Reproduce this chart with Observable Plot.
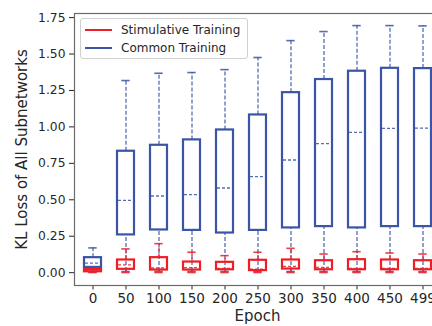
<!DOCTYPE html>
<html>
<head>
<meta charset="utf-8">
<script src="https://cdn.jsdelivr.net/npm/d3@7"></script>
<script src="https://cdn.jsdelivr.net/npm/@observablehq/plot@0.6"></script>
<style>
  html, body { margin: 0; padding: 0; background: white; overflow: hidden; }
  #wrap { position: relative; width: 432px; height: 326px; overflow: hidden; font-family: "DejaVu Sans", sans-serif; }
  #legend { position: absolute; left: 80px; top: 18px; width: 166px; height: 39px; border: 1px solid #d0d0d0; border-radius: 3px; background: rgba(255,255,255,0.85); font-size: 12px; color: #262626; }
  .item { position: absolute; left: 4px; height: 14px; display: flex; align-items: center; white-space: nowrap; }
  .sw { width: 27px; height: 0; border-top: 2px solid; margin-right: 9px; }
</style>
</head>
<body>
<div id="wrap"></div>
<script>
const epochs = ["0","50","100","150","200","250","300","350","400","450","499"];

// Common Training (blue)
const commonLo  = [0.005, 0.008, 0.008, 0.008, 0.008, 0.008, 0.008, 0.008, 0.008, 0.008, 0.008];
const commonQ1  = [0.036, 0.259, 0.293, 0.290, 0.272, 0.290, 0.307, 0.316, 0.307, 0.316, 0.316];
const commonMed = [0.066, 0.496, 0.526, 0.535, 0.581, 0.659, 0.773, 0.885, 0.963, 0.990, 0.992];
const commonQ3  = [0.103, 0.833, 0.874, 0.911, 0.979, 1.082, 1.235, 1.325, 1.382, 1.402, 1.400];
const commonHi  = [0.170, 1.318, 1.368, 1.373, 1.393, 1.476, 1.592, 1.654, 1.695, 1.695, 1.693];

// Stimulative Training (red)
const stimLo  = [0.001, 0.001, 0.001, 0.001, 0.001, 0.001, 0.001, 0.001, 0.001, 0.001, 0.001];
const stimQ1  = [0.006, 0.023, 0.018, 0.018, 0.020, 0.014, 0.025, 0.020, 0.020, 0.020, 0.020];
const stimMed = [0.013, 0.053, 0.032, 0.035, 0.030, 0.025, 0.043, 0.036, 0.030, 0.030, 0.030];
const stimQ3  = [0.022, 0.087, 0.103, 0.073, 0.071, 0.085, 0.087, 0.082, 0.089, 0.087, 0.082];
const stimHi  = [0.030, 0.163, 0.199, 0.140, 0.117, 0.140, 0.167, 0.128, 0.144, 0.135, 0.128];

const yTicks = [0, 0.25, 0.5, 0.75, 1.0, 1.25, 1.5, 1.75];
const seriesNames = ["Stimulative Training", "Common Training"];
const RED = "#ec1f26", BLUE = "#3a54a6";

const mk = (lo, q1, med, q3, hi) => epochs.map((e, i) => ({epoch: e, lo: lo[i], q1: q1[i], med: med[i], q3: q3[i], hi: hi[i]}));
const common = mk(commonLo, commonQ1, commonMed, commonQ3, commonHi);
const stim = mk(stimLo, stimQ1, stimMed, stimQ3, stimHi);

function boxMarks(t, color) {
  return [
    Plot.ruleX(t, {x: "epoch", y1: "q3", y2: "hi", stroke: color, strokeWidth: 1.3, strokeOpacity: 0.85, strokeDasharray: "4,2"}),
    Plot.ruleX(t, {x: "epoch", y1: "lo", y2: "q1", stroke: color, strokeWidth: 1.3, strokeOpacity: 0.85, strokeDasharray: "4,2"}),
    Plot.tickY(t, {x: "epoch", y: "hi", stroke: color, strokeWidth: 1.6, strokeOpacity: 0.85, insetLeft: 12.3, insetRight: 12.3}),
    Plot.tickY(t, {x: "epoch", y: "lo", stroke: color, strokeWidth: 1.6, strokeOpacity: 0.85, insetLeft: 12.3, insetRight: 12.3}),
    Plot.barY(t, {x: "epoch", y1: "q1", y2: "q3", fill: "none", stroke: color, strokeWidth: 2.2, insetLeft: 8, insetRight: 8}),
    Plot.tickY(t, {x: "epoch", y: "med", stroke: color, strokeWidth: 1.3, strokeOpacity: 0.85, strokeDasharray: "3,2", insetLeft: 9, insetRight: 9})
  ];
}

const chart = Plot.plot({
  width: 440,
  height: 326,
  marginLeft: 74,
  marginRight: 0,
  marginTop: 13,
  marginBottom: 41,
  style: {fontSize: "12.3px", fontFamily: "DejaVu Sans, sans-serif", color: "#262626", maxWidth: "none", background: "white"},
  x: {type: "band", domain: epochs, padding: 0, tickSize: 4.5, tickPadding: 3, label: null},
  y: {domain: [-0.088, 1.778], ticks: yTicks, tickFormat: d3.format(".2f"), tickSize: 5, tickPadding: 4, label: null},
  marks: [
    Plot.frame({stroke: "#6b6b6b", strokeWidth: 1.2}),
    ...boxMarks(common, BLUE),
    ...boxMarks(stim, RED),
    Plot.text(["KL Loss of All Subnetworks"], {frameAnchor: "left", dx: -52, rotate: -90, textAnchor: "middle", lineAnchor: "middle", fontSize: 15, fill: "#262626"}),
    Plot.text(["Epoch"], {frameAnchor: "bottom", dy: 31, textAnchor: "middle", lineAnchor: "middle", fontSize: 15, fill: "#262626"})
  ]
});
d3.select(chart).selectAll('g[aria-label="x-axis tick label"]').attr("font-size", "13.5px");
document.getElementById("wrap").appendChild(chart);

const legend = document.createElement("div");
legend.id = "legend";
[[seriesNames[0], RED, 4], [seriesNames[1], BLUE, 22]].forEach(([name, c, top]) => {
  const it = document.createElement("div");
  it.className = "item";
  it.style.top = top + "px";
  const sw = document.createElement("span");
  sw.className = "sw";
  sw.style.borderColor = c;
  const tx = document.createElement("span");
  tx.textContent = name;
  it.appendChild(sw); it.appendChild(tx);
  legend.appendChild(it);
});
document.getElementById("wrap").appendChild(legend);
</script>
</body>
</html>
